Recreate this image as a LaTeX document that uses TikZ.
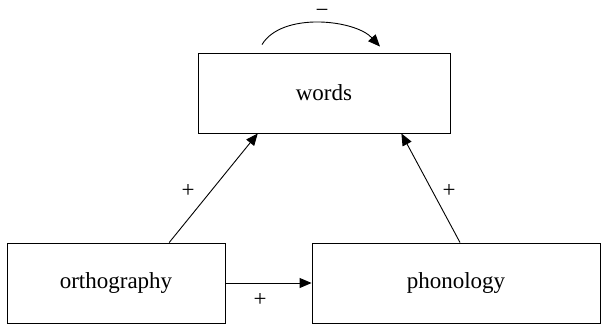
\documentclass[tikz,border=0pt]{standalone}
\usepackage{fontspec}
\setmainfont{Liberation Serif}
\usetikzlibrary{arrows.meta,calc}
\begin{document}
\begin{tikzpicture}[x=1pt,y=-1pt,
  box/.style={draw,line width=0.9pt,inner sep=0pt,font=\fontsize{23}{27}\selectfont},
  conn/.style={line width=0.9pt,-{Triangle[length=12pt,width=10pt]}},
  sign/.style={inner sep=0pt,font=\fontsize{23}{27}\selectfont}]
\useasboundingbox (0,0) rectangle (603,324);
\node[box,minimum width=252pt,minimum height=80pt] (words) at (324,93) {words};
\node[box,minimum width=218pt,minimum height=80pt] (ortho) at (116,283) {orthography};
\node[box,minimum width=288pt,minimum height=80pt] (phono) at (456,283) {phonology};
\draw[conn] ($(ortho.north west)!0.743!(ortho.north east)$) -- ($(words.south west)!0.238!(words.south east)$);
\draw[conn] ($(phono.north west)!0.514!(phono.north east)$) -- ($(words.south west)!0.806!(words.south east)$);
\draw[conn] (ortho.east) -- (phono.west);
\coordinate (s) at ($(words.north)+(-62,-8)$);
\coordinate (e) at ($(words.north)+(56,-6)$);
\draw[conn] (s) .. controls ($(s)+(20,-33)$) and ($(e)+(-25,-27)$) .. (e);
\node[sign,anchor=base] (m) at (322,17) {−};
\node[sign] (p1) at (188,191) {+};
\node[sign] (p2) at (449,191) {+};
\node[sign] (p3) at (260,300) {+};
\end{tikzpicture}
\end{document}
